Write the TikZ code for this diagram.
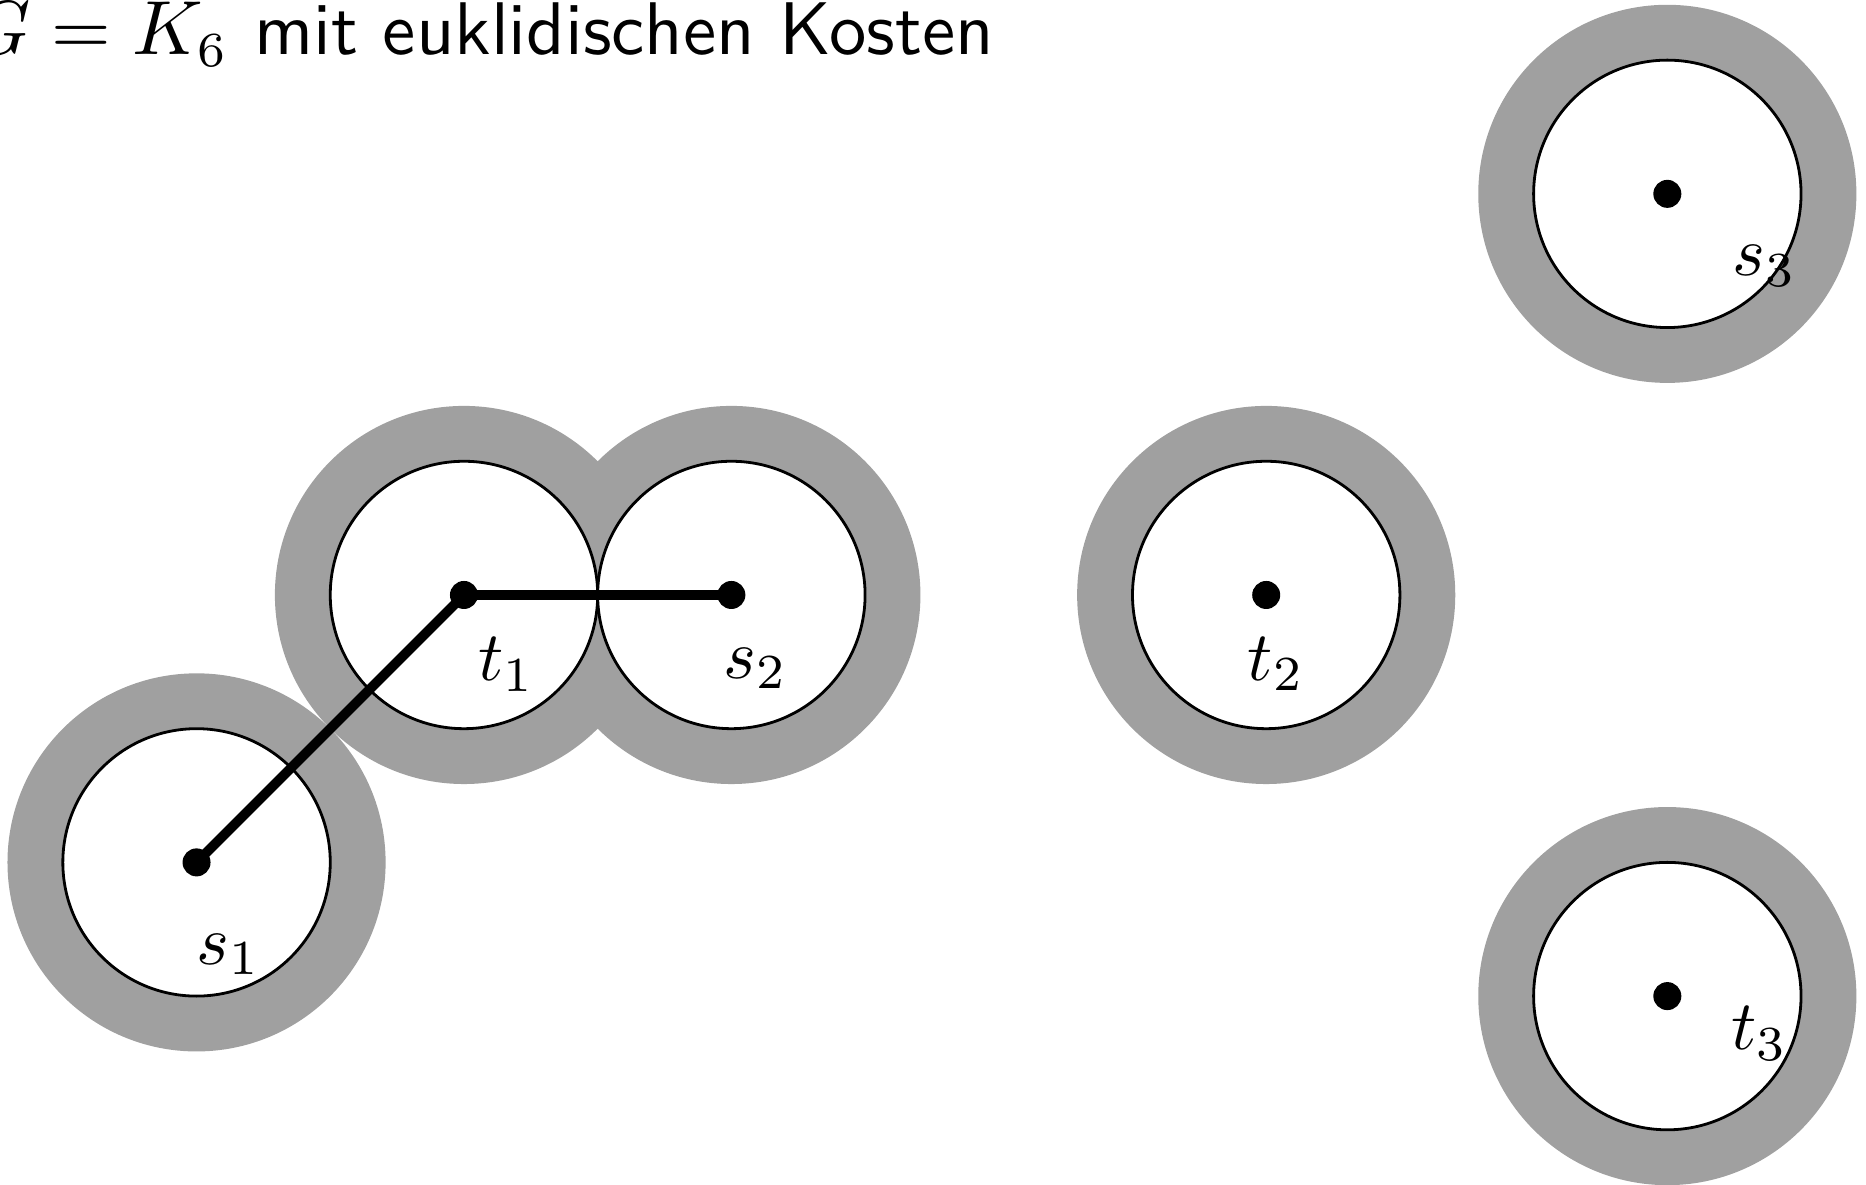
\documentclass[tikz,border=0pt]{standalone}
\usepackage{amsmath,amssymb}
\usetikzlibrary{positioning}
\definecolor{ringgray}{RGB}{160,160,160}
\newcommand{\rOut}{1.414}

\begin{document}
\begin{tikzpicture}[x=0.671cm,y=0.671cm,
  ring/.style={fill=ringgray},
  disc/.style={draw=black,fill=white,line width=0.4pt},
  edge/.style={line width=1.4pt}]
\useasboundingbox (-3.47,-4.41) rectangle (10.486,4.45);
% terminals
\coordinate (s1) at (-2,-2); \coordinate (t1) at (0,0);
\coordinate (s2) at (2,0);   \coordinate (t2) at (6,0);
\coordinate (s3) at (9,3);   \coordinate (t3) at (9,-3);
% balls around the terminals
\foreach \v in {s1,t1,s2,t2,s3,t3} \fill[ring] (\v) circle (\rOut);
\foreach \v in {s1,t1,s2,t2,s3,t3} \draw[disc] (\v) circle (1);
% chosen edges
\draw[edge] (s1)--(t1); \draw[edge] (t1)--(s2);
\foreach \v in {s1,t1,s2,t2,s3,t3} \fill (\v) circle (2pt);
\node (ls1) at ([shift={(0.24,-0.69)}]s1) {$s_1$};
\node (lt1) at ([shift={(0.32,-0.52)}]t1) {$t_1$};
\node (ls2) at ([shift={(0.18,-0.55)}]s2) {$s_2$};
\node (lt2) at ([shift={(0.075,-0.515)}]t2) {$t_2$};
\node (ls3) at ([shift={(0.73,-0.54)}]s3) {$s_3$};
\node (lt3) at ([shift={(0.69,-0.28)}]t3) {$t_3$};
\node[anchor=base east,inner sep=0pt] (title) at (3.975,4.04)
  {\fontsize{10.65}{12}\selectfont $G = K_6$ \textsf{mit euklidischen Kosten}};
\end{tikzpicture}
\end{document}
